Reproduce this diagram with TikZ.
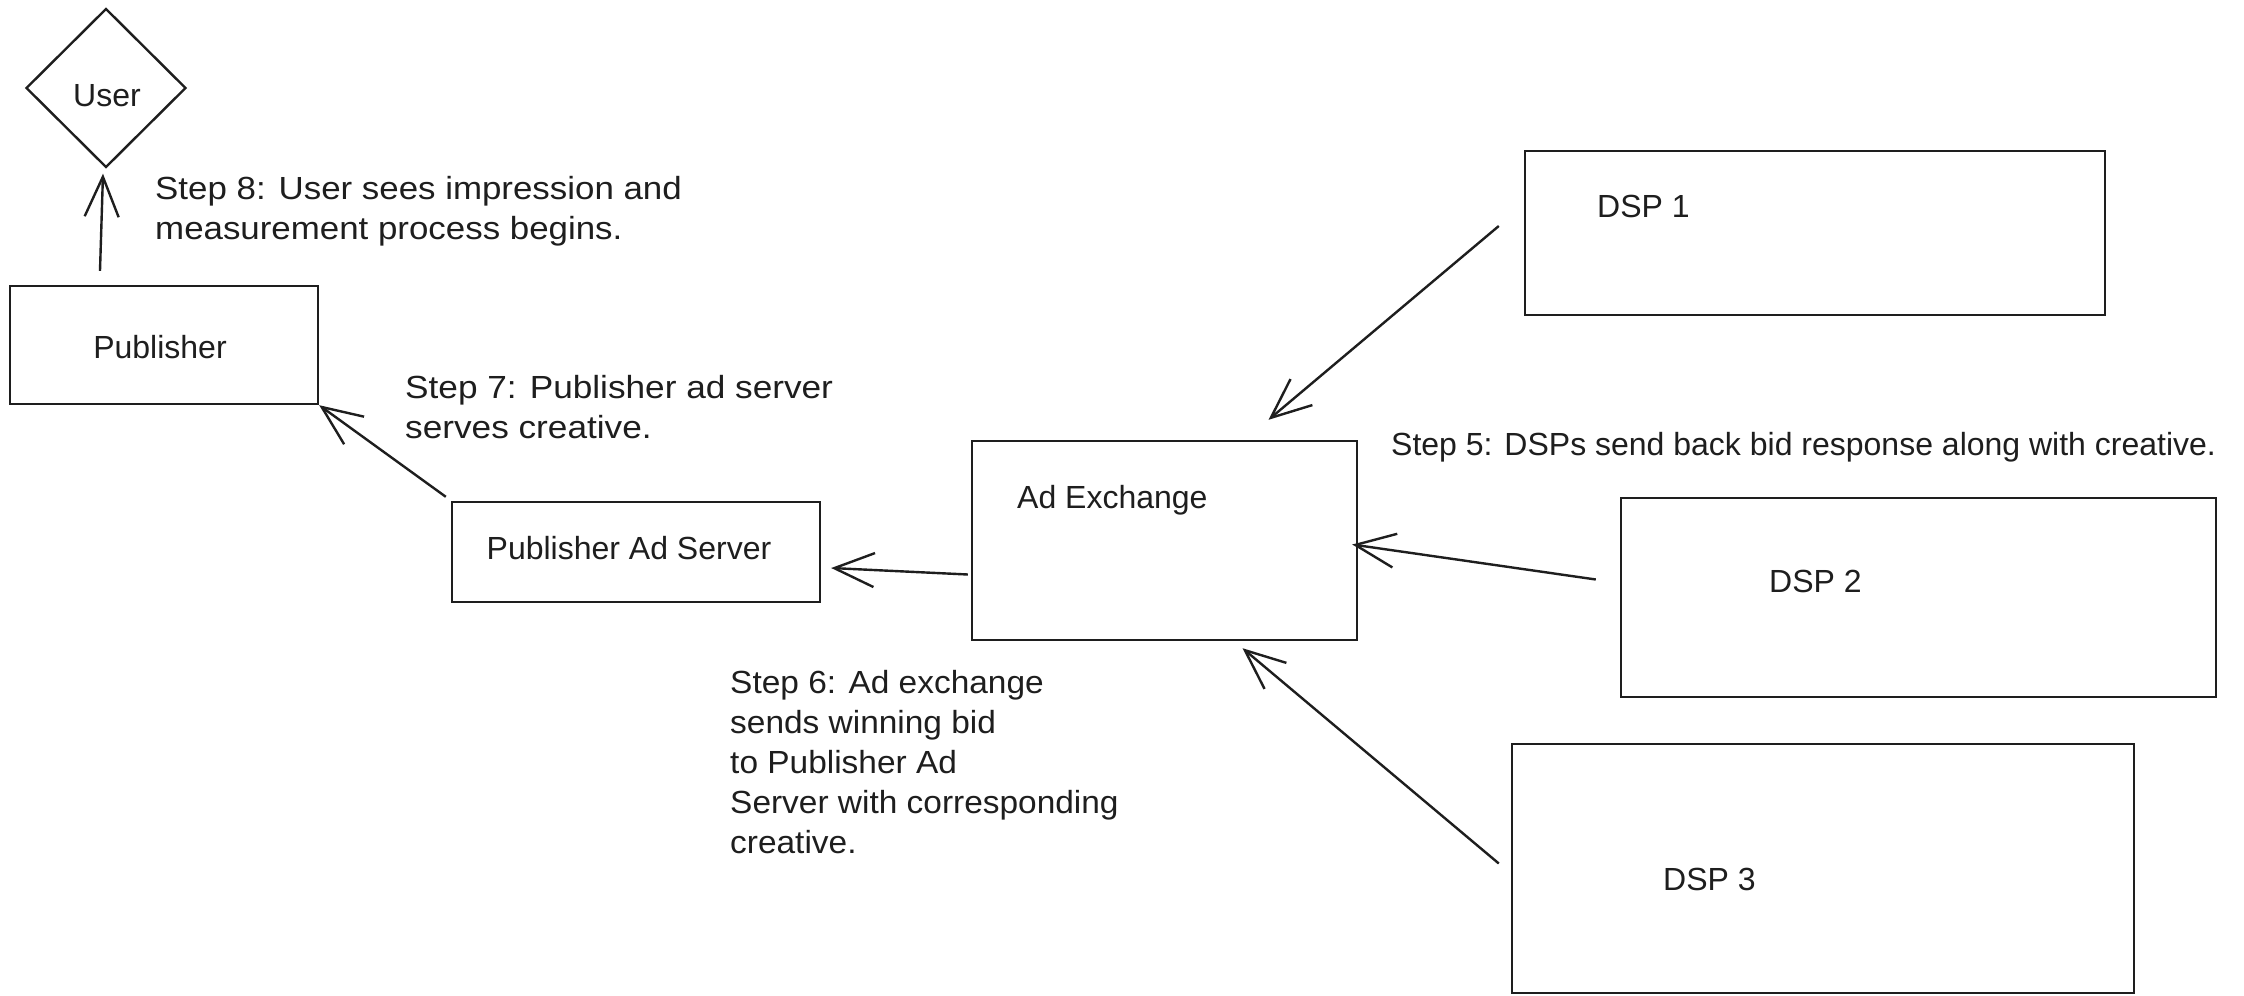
\documentclass[tikz,border=0pt]{standalone}
\usepackage{fontspec}
\setmainfont{Liberation Sans}
\usetikzlibrary{arrows.meta,calc,shapes.geometric}
\definecolor{ink}{HTML}{1E1E1E}
\begin{document}
\begin{tikzpicture}[x=1pt,y=-1pt,
  box/.style={draw=ink,line width=2.4pt,inner sep=0pt},
  lbl/.style={font=\fontsize{32}{40}\selectfont,text=ink,inner sep=0pt},
  wide/.style={font=\fontsize{32}{40}\selectfont\addfontfeatures{FakeStretch=#1}},
  arr/.style={draw=ink,line width=2.4pt,-{Straight Barb[length=40pt,width=34pt]}}]
\useasboundingbox (0,0) rectangle (2244,996);
\fill[white] (0,0) rectangle (2244,996);

% boxes
\node[box,diamond,minimum width=160pt,minimum height=159pt] (user) at (106,88) {};
\node[box,minimum width=308pt,minimum height=118pt] (pub) at (164,345) {};
\node[box,minimum width=368pt,minimum height=100pt] (pas) at (636,552) {};
\node[box,minimum width=385pt,minimum height=199pt] (adx) at (1164.5,540.5) {};
\node[box,minimum width=580pt,minimum height=164pt] (dsp1) at (1815,233) {};
\node[box,minimum width=595pt,minimum height=199pt] (dsp2) at (1918.5,597.5) {};
\node[box,minimum width=622pt,minimum height=249pt] (dsp3) at (1823,868.5) {};

% box texts
\node[lbl,anchor=base] (usert) at (107,106) {User};
\node[lbl,anchor=base] (pubt) at (160,358) {Publisher};
\node[lbl,anchor=base] (past) at (629,559) {Publisher Ad Server};
\node[lbl,anchor=base west] (adxt) at (1017,508) {Ad Exchange};
\node[lbl,anchor=base west] (dsp1t) at (1597,217) {DSP 1};
\node[lbl,anchor=base west] (dsp2t) at (1769,592) {DSP 2};
\node[lbl,anchor=base west] (dsp3t) at (1663,890) {DSP 3};

% step texts
\node[lbl,wide=1.09,anchor=north west,align=left] (s8) at (155,176) {Step 8: User sees impression and\\measurement process begins.};
\node[lbl,wide=1.1,anchor=north west,align=left] (s7) at (405,375) {Step 7: Publisher ad server\\serves creative.};
\node[lbl,wide=1.045,anchor=north west,align=left] (s6) at (730,670) {Step 6: Ad exchange\\sends winning bid\\to Publisher Ad\\Server with corresponding\\creative.};
\node[lbl,anchor=base west] (s5) at (1391,455) {Step 5: DSPs send back bid response along with creative.};

% connectors
\draw[arr] ($(pub.north)+(-64,-14)$) -- ($(user.south)+(-3,5)$);
\draw[arr] ($(pas.north west)+(-5,-4)$) -- (pub.south east);
\draw[arr] ($(adx.west)+(-3,34)$) -- ($(pas.east)+(10,16)$);
\draw[arr] ($(dsp1.west)+(-25,-7)$) -- ($(adx.north)+(104,-20)$);
\draw[arr] ($(dsp2.west)+(-24,-18)$) -- ($(adx.east)+(-6,4)$);
\draw[arr] ($(dsp3.west)+(-12,-5)$) -- ($(adx.south)+(78,7)$);
\end{tikzpicture}
\end{document}
